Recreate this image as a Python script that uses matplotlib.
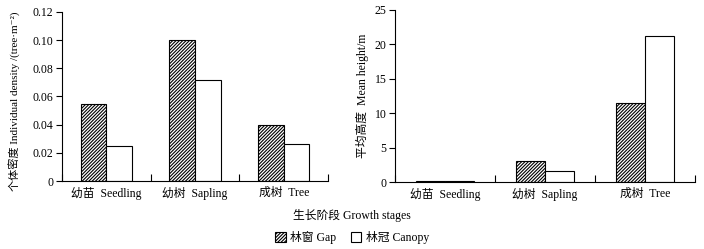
import matplotlib.pyplot as plt
import numpy as np

plt.rcParams['font.family'] = ['Liberation Serif', 'Noto Sans CJK SC', 'DejaVu Serif']
plt.rcParams['hatch.linewidth'] = 0.8
plt.rcParams['axes.unicode_minus'] = False

stages = ['幼苗  Seedling', '幼树  Sapling', '成树  Tree']
density_gap = [0.055, 0.100, 0.040]
density_canopy = [0.025, 0.072, 0.026]
height_gap = [0.2, 3.1, 11.5]
height_canopy = [0.2, 1.6, 21.2]

fig = plt.figure(figsize=(7.04, 2.49), dpi=100)
ax1 = fig.add_axes([0.088, 0.273, 0.378, 0.679])
ax2 = fig.add_axes([0.561, 0.269, 0.426, 0.691])

x = np.arange(len(stages))
w = 0.29

def draw(ax, gap, canopy, ylim, yticks, yticklabels, ylabel):
    ax.bar(x - w / 2, gap, w, facecolor='white', edgecolor='black',
           hatch='//////////', linewidth=0.8, label='林窗 Gap')
    ax.bar(x + w / 2, canopy, w, facecolor='white', edgecolor='black',
           linewidth=0.8, label='林冠 Canopy')
    ax.set_xlim(-0.5, 2.5)
    ax.set_ylim(*ylim)
    ax.set_yticks(yticks)
    ax.set_yticklabels(yticklabels, fontsize=8.5)
    ax.set_xticks(x)
    ax.set_xticklabels(stages, fontsize=8.5)
    ax.tick_params(axis='x', length=0, pad=4)
    ax.set_xticks([-0.5, 0.5, 1.5, 2.5], minor=True)
    ax.tick_params(axis='x', which='minor', direction='in', length=5, width=0.8)
    ax.tick_params(axis='y', direction='out', length=4, width=0.8, pad=2)
    ax.spines['top'].set_visible(False)
    ax.spines['right'].set_visible(False)
    ax.spines['left'].set_linewidth(0.8)
    ax.spines['bottom'].set_linewidth(0.8)
    ax.set_ylabel(ylabel, fontsize=8.5, labelpad=4)

draw(ax1, density_gap, density_canopy, (0, 0.12),
     [0, 0.02, 0.04, 0.06, 0.08, 0.10, 0.12],
     ['0', '0.02', '0.04', '0.06', '0.08', '0.10', '0.12'],
     '个体密度 Individual density /(tree·m⁻²)')
draw(ax2, height_gap, height_canopy, (0, 25),
     [0, 5, 10, 15, 20, 25], ['0', '5', '10', '15', '20', '25'],
     '平均高度  Mean height/m')
ax1.yaxis.label.set_fontsize(8)
ax1.yaxis.set_label_coords(-0.155, 0.47)

fig.text(0.5, 0.135, '生长阶段 Growth stages', ha='center', va='center', fontsize=8.5)
handles, labels = ax1.get_legend_handles_labels()
fig.legend(handles, labels, loc='center', bbox_to_anchor=(0.5, 0.045), ncol=2,
           frameon=False, fontsize=8.5, handlelength=0.9, handleheight=0.9,
           handletextpad=0.4, columnspacing=1.2, borderpad=0)

fig.savefig('out.png', dpi=100)
